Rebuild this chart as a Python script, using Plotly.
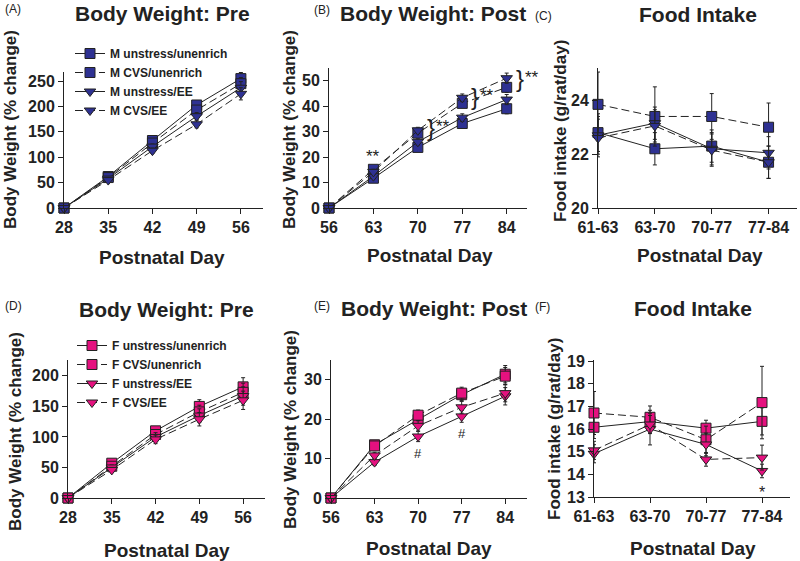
import plotly.graph_objects as go
from plotly.subplots import make_subplots

W, H = 800, 561

days_pre = [28, 35, 42, 49, 56]
days_post = [56, 63, 70, 77, 84]
periods = ["61-63", "63-70", "70-77", "77-84"]

groups = ["unstress/unenrich", "CVS/unenrich", "unstress/EE", "CVS/EE"]

# males, % change body weight before stress (A)
m_pre_uu = [0, 62, 133, 203, 255]
m_pre_cu = [0, 60, 128, 193, 245]
m_pre_ue = [0, 58, 121, 181, 237]
m_pre_ce = [0, 55, 113, 165, 225]
m_pre_err = [0, 3, 5, 7, 12]

# males, post (B)
m_post_uu = [0, 11.7, 23.8, 33.2, 39.0]
m_post_cu = [0, 15.2, 29.4, 41.1, 47.4]
m_post_ue = [0, 12.5, 26.0, 35.5, 42.6]
m_post_ce = [0, 14.2, 30.5, 43.3, 51.0]
m_post_err = [0, 1.0, 1.2, 1.5, 2.0]

# males, food intake (C)
m_food_uu = [22.8, 22.2, 22.3, 21.7]
m_food_cu = [23.85, 23.4, 23.4, 23.0]
m_food_ue = [22.7, 23.15, 22.2, 22.05]
m_food_ce = [22.6, 23.05, 22.15, 21.7]
m_food_err_cu = [1.2, 1.1, 0.85, 0.9]
m_food_err = [0.7, 0.6, 0.6, 0.6]

# females, pre (D)
f_pre_uu = [0, 57, 110, 150, 182]
f_pre_cu = [0, 52, 104, 141, 173]
f_pre_ue = [0, 50, 100, 135, 167]
f_pre_ce = [0, 46, 96, 129, 160]
f_pre_err = [0, 4, 7, 11, 15]

# females, post (E)
f_post_uu = [0, 13.5, 19.9, 26.2, 31.4]
f_post_cu = [0, 13.2, 21.0, 26.6, 30.9]
f_post_ue = [0, 9.1, 15.6, 20.7, 25.8]
f_post_ce = [0, 10.8, 18.3, 23.0, 26.6]
f_post_err = [0, 0.8, 1.3, 1.5, 2.2]

# females, food intake (F)
f_food_uu = [16.08, 16.33, 16.04, 16.34]
f_food_cu = [16.71, 16.52, 15.53, 17.17]
f_food_ue = [14.91, 16.0, 15.32, 14.15]
f_food_ce = [15.06, 16.2, 14.66, 14.74]
f_food_err_uu = [0.5, 0.5, 0.35, 0.6]
f_food_err_cu = [0.95, 0.5, 0.6, 1.6]
f_food_err_ue = [0.4, 0.7, 0.5, 0.3]
f_food_err_ce = [0.4, 0.4, 0.3, 0.55]

BLUE = "#2E3192"
PINK = "#E5117F"
INK = "#222222"
FONT = "Arial"

symbols = ["square", "square", "triangle-down", "triangle-down"]
dashes = ["solid", "8px,4px", "solid", "8px,4px"]


def px_x(p):
    return p / W


def px_y(p):
    return 1 - p / H


fig = make_subplots(rows=2, cols=3)


def add_series(row, col, x, ys, errs, color, sex, legend):
    for i, (y, e) in enumerate(zip(ys, errs)):
        fig.add_trace(go.Scatter(
            x=x, y=y, mode="lines+markers",
            name=f"{sex} {groups[i]}",
            legend=legend, showlegend=legend is not None,
            line=dict(color=INK, width=1, dash=dashes[i]),
            marker=dict(symbol=symbols[i], size=10, color=color,
                        line=dict(color=INK, width=1)),
            error_y=dict(type="data", array=e, color=INK, thickness=1, width=2),
            cliponaxis=False,
        ), row=row, col=col)


add_series(1, 1, days_pre, [m_pre_uu, m_pre_cu, m_pre_ue, m_pre_ce],
           [m_pre_err] * 4, BLUE, "M", "legend")
add_series(1, 2, days_post, [m_post_uu, m_post_cu, m_post_ue, m_post_ce],
           [m_post_err] * 4, BLUE, "M", None)
add_series(1, 3, periods, [m_food_uu, m_food_cu, m_food_ue, m_food_ce],
           [m_food_err, m_food_err_cu, m_food_err, m_food_err], BLUE, "M", None)
add_series(2, 1, days_pre, [f_pre_uu, f_pre_cu, f_pre_ue, f_pre_ce],
           [f_pre_err] * 4, PINK, "F", "legend2")
add_series(2, 2, days_post, [f_post_uu, f_post_cu, f_post_ue, f_post_ce],
           [f_post_err] * 4, PINK, "F", None)
add_series(2, 3, periods, [f_food_uu, f_food_cu, f_food_ue, f_food_ce],
           [f_food_err_uu, f_food_err_cu, f_food_err_ue, f_food_err_ce], PINK, "F", None)

axis_style = dict(showline=True, linecolor=INK, linewidth=1, ticks="outside",
                  ticklen=5, tickwidth=1, tickcolor=INK, showgrid=False,
                  zeroline=False, mirror=False, automargin=False,
                  tickfont=dict(family=FONT, size=16, color=INK, weight="bold"))

# panel boxes in pixels: (left, right, top, bottom)
boxes = [(64, 263, 72, 208), (329, 527, 68, 208), (598, 797, 68, 208),
         (68, 265, 360, 498), (331, 527, 360, 498), (594, 790, 360, 497)]
xranges = [[28, 59.5], [56, 87.2], [0, 3.5], [28, 59.5], [56, 87.5], [0, 3.5]]
yranges = [[0, 268], [0, 55], [20, 25.2], [0, 226], [0, 35], [13, 19.05]]
yticks = [list(range(0, 251, 50)), list(range(0, 51, 10)), [20, 22, 24],
          list(range(0, 201, 50)), [0, 10, 20, 30], list(range(13, 20))]
xticks = [days_pre, days_post, None, days_pre, days_post, None]

for k in range(6):
    l, r, t, b = boxes[k]
    suf = "" if k == 0 else str(k + 1)
    xa = dict(axis_style, domain=[px_x(l), px_x(r)], range=xranges[k])
    if xticks[k] is not None:
        xa["tickvals"] = xticks[k]
    ya = dict(axis_style, domain=[px_y(b), px_y(t)], range=yranges[k],
              tickvals=yticks[k])
    fig.layout["xaxis" + suf].update(xa)
    fig.layout["yaxis" + suf].update(ya)

annotations = []


def text(x, y, s, size, bold=True, angle=0, xanchor="center"):
    annotations.append(dict(
        x=px_x(x), y=px_y(y), xref="paper", yref="paper", text=s,
        showarrow=False, textangle=angle, xanchor=xanchor, yanchor="middle",
        font=dict(family=FONT, size=size, color=INK,
                  weight="bold" if bold else "normal")))


titles = [("Body Weight: Pre", 162, 14), ("Body Weight: Post", 433, 14),
          ("Food Intake", 698, 15), ("Body Weight: Pre", 166, 309),
          ("Body Weight: Post", 434, 308), ("Food Intake", 693, 308)]
for s, x, y in titles:
    text(x, y, s, 21)

letters = [("(A)", 3, 9), ("(B)", 312, 10), ("(C)", 533, 16),
           ("(D)", 3, 306), ("(E)", 312, 306), ("(F)", 533, 307)]
for s, x, y in letters:
    text(x, y, s, 12, bold=False, xanchor="left")

ytitles = [("Body Weight (% change)", 11, 130), ("Body Weight (% change)", 290, 130),
           ("Food intake (g/rat/day)", 560, 131), ("Body Weight (% change)", 15, 432),
           ("Body Weight (% change)", 290, 430), ("Food intake (g/rat/day)", 555, 429)]
for s, x, y in ytitles:
    text(x, y, s, 17, angle=-90)

for x, y in [(162, 257), (430, 255), (700, 255), (167, 550), (429, 548), (693, 548)]:
    text(x, y, "Postnatal Day", 19)

# significance marks, panel B
annotations.append(dict(x=63, y=m_post_cu[1], xref="x2", yref="y2", text="**",
                        showarrow=False, yshift=13,
                        font=dict(family=FONT, size=17, color=INK)))
for j in (2, 3, 4):
    yb = (m_post_cu[j] + m_post_ce[j]) / 2
    annotations.append(dict(x=days_post[j], y=yb, xref="x2", yref="y2", text="}",
                            showarrow=False, xshift=7, yshift=4, xanchor="left",
                            font=dict(family=FONT, size=24, color=INK)))
    annotations.append(dict(x=days_post[j], y=yb, xref="x2", yref="y2", text="**",
                            showarrow=False, xshift=16, yshift=5, xanchor="left",
                            font=dict(family=FONT, size=17, color=INK)))

# panel E
for j in (2, 3):
    annotations.append(dict(x=days_post[j], y=f_post_ue[j], xref="x5", yref="y5",
                            text="#", showarrow=False, yshift=-17,
                            font=dict(family=FONT, size=13, color=INK)))

# panel F
annotations.append(dict(x=periods[3], y=f_food_ue[3], xref="x6", yref="y6",
                        text="*", showarrow=False, yshift=-22,
                        font=dict(family=FONT, size=16, color=INK)))

legend_style = dict(xanchor="left", yanchor="top", bgcolor="rgba(0,0,0,0)",
                    borderwidth=0, itemwidth=30, traceorder="normal",
                    font=dict(family=FONT, size=12, color=INK, weight="bold"))

fig.update_layout(
    width=W, height=H,
    margin=dict(l=0, r=0, t=0, b=0, autoexpand=False),
    paper_bgcolor="white", plot_bgcolor="white",
    annotations=annotations,
    legend=dict(legend_style, x=px_x(70), y=px_y(39)),
    legend2=dict(legend_style, x=px_x(72), y=px_y(331)),
)

# the page body has a default 8px margin; drop it so the figure sits at 0,0
fig.write_html("out.html", config={"displayModeBar": False},
               post_script="document.body.style.margin='0';")
